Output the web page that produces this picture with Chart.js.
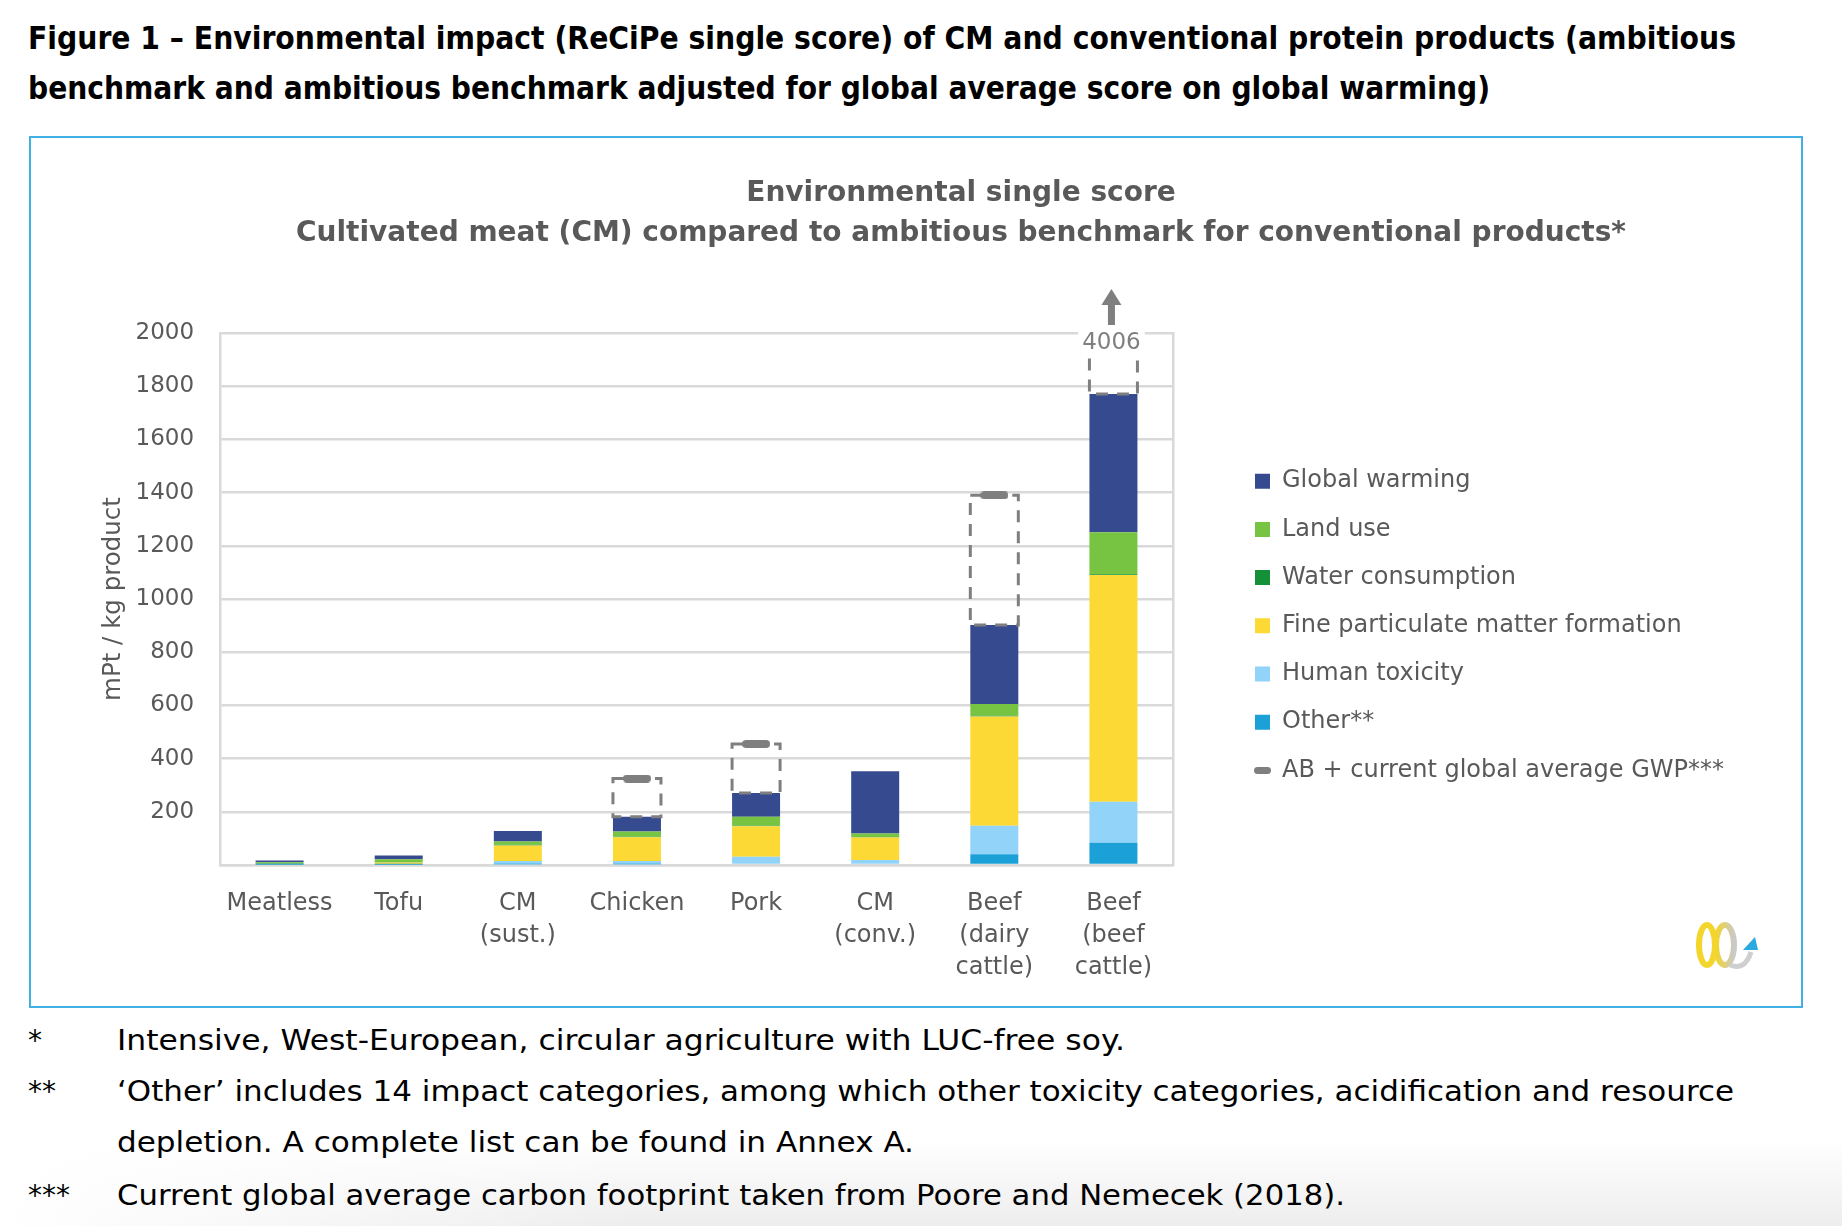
<!DOCTYPE html>
<html>
<head>
<meta charset="utf-8">
<script src="https://cdn.jsdelivr.net/npm/chart.js@4.4.1/dist/chart.umd.min.js"></script>
<style>
  html, body { margin: 0; padding: 0; background: #ffffff; }
  body { width: 1842px; height: 1226px; position: relative; overflow: hidden; font-family: "DejaVu Sans", sans-serif; }
  .tline { position: absolute; left: 28px; white-space: nowrap; font-weight: bold; font-size: 32px; line-height: 50px; color: #000; transform-origin: 0 50%; }
  #box { position: absolute; left: 29px; top: 136px; width: 1770px; height: 868px; border: 2px solid #41B0E4; }
  #wrap { position: absolute; left: 0; top: 140px; width: 1842px; height: 867px; }
  #shade { position: absolute; left: 0; top: 1140px; width: 1842px; height: 86px;
           background: linear-gradient(to right, rgba(255,255,255,1) 0%, rgba(255,255,255,0) 35%),
                       linear-gradient(to bottom, rgba(0,0,0,0) 0%, rgba(0,0,0,0.07) 100%); }
  .nstar { position: absolute; left: 28px; white-space: nowrap; font-size: 28px; line-height: 50px; color: #000; }
  .ntext { position: absolute; left: 117px; white-space: nowrap; font-size: 28px; line-height: 50px; color: #000; transform-origin: 0 50%; }
  #logo { position: absolute; left: 1690px; top: 915px; }
</style>
</head>
<body>
<div id="shade"></div>
<div class="tline" id="t1" style="top:13px">Figure 1 – Environmental impact (ReCiPe single score) of CM and conventional protein products (ambitious</div>
<div class="tline" id="t2" style="top:63px">benchmark and ambitious benchmark adjusted for global average score on global warming)</div>
<div id="box"></div>
<div id="wrap"><canvas id="chart" width="1842" height="867"></canvas></div>
<svg id="logo" width="75" height="60" viewBox="0 0 75 60">
  <defs>
    <linearGradient id="lg2" x1="0" y1="0" x2="1" y2="0">
      <stop offset="0" stop-color="#F3D52B"/>
      <stop offset="1" stop-color="#C9C9C9"/>
    </linearGradient>
  </defs>
  <ellipse cx="17" cy="30" rx="8" ry="20" fill="none" stroke="#F3D52B" stroke-width="6"/>
  <ellipse cx="35" cy="30" rx="9" ry="20" fill="none" stroke="url(#lg2)" stroke-width="6"/>
  <path d="M40 50 Q 55 56 61 37" fill="none" stroke="#CFCFCF" stroke-width="5"/>
  <polygon points="53,35 68,35 65,22" fill="#2AA8E0"/>
</svg>
<div class="nstar" style="top:1016px">*</div>
<div class="ntext" id="n1" style="top:1016px">Intensive, West-European, circular agriculture with LUC-free soy.</div>
<div class="nstar" style="top:1067px">**</div>
<div class="ntext" id="n2" style="top:1067px">‘Other’ includes 14 impact categories, among which other toxicity categories, acidification and resource</div>
<div class="ntext" id="n3" style="top:1118px">depletion. A complete list can be found in Annex A.</div>
<div class="nstar" style="top:1171px">***</div>
<div class="ntext" id="n4" style="top:1171px">Current global average carbon footprint taken from Poore and Nemecek (2018).</div>

<script>
// ---------------- DATA ----------------
const categories = [['Meatless'], ['Tofu'], ['CM', '(sust.)'], ['Chicken'], ['Pork'], ['CM', '(conv.)'], ['Beef', '(dairy', 'cattle)'], ['Beef', '(beef', 'cattle)']];
const otherValues            = [1, 1, 3, 3, 5, 5, 40, 84];
const humanToxicityValues    = [1, 1, 12, 12, 26, 14, 108, 154];
const fineParticulateValues  = [2, 7, 58, 89, 115, 84, 410, 852];
const waterConsumptionValues = [1, 1, 3, 2, 2, 1, 3, 3];
const landUseValues          = [5, 12, 12, 20, 33, 14, 44, 158];
const globalWarmingValues    = [7, 14, 40, 55, 90, 234, 297, 520];
const abGlobalAverageValues  = [null, null, null, 325, 455, null, 1390, 4006];
const seriesLabels = ['Other**', 'Human toxicity', 'Fine particulate matter formation', 'Water consumption', 'Land use', 'Global warming'];
const markerLabel = 'AB + current global average GWP***';
const yAxisMin = 0;
const yAxisMax = 2000;
const yAxisStep = 200;
const chartTitleLines = ['Environmental single score', 'Cultivated meat (CM) compared to ambitious benchmark for conventional products*'];
const yAxisTitle = 'mPt / kg product';

// ---------------- HTML text fitting ----------------
function fitOne(id, target) {
  const e = document.getElementById(id);
  const w = e.getBoundingClientRect().width;
  e.style.transform = 'scaleX(' + (target / w) + ')';
}
fitOne('t1', 1708); fitOne('t2', 1462);
fitOne('n1', 1008); fitOne('n2', 1617); fitOne('n3', 797); fitOne('n4', 1228);

// ---------------- CHART ----------------
const GREY = '#595959';
const FONT = '"DejaVu Sans", sans-serif';
const seriesColors = ['#1BA0D7', '#92D3F9', '#FDD935', '#149039', '#76C442', '#364B8F'];
const seriesValues = [otherValues, humanToxicityValues, fineParticulateValues, waterConsumptionValues, landUseValues, globalWarmingValues];

const totals = categories.map((_, i) => seriesValues.reduce((s, arr) => s + arr[i], 0));
const abGap = abGlobalAverageValues.map((v, i) => v == null ? null : v - totals[i]);

function makeDash(w, h, color) {
  const c = document.createElement('canvas');
  c.width = w; c.height = h;
  const x = c.getContext('2d');
  const r = h / 2;
  x.fillStyle = color;
  x.beginPath();
  x.moveTo(r, 0); x.lineTo(w - r, 0);
  x.arc(w - r, r, r, -Math.PI / 2, Math.PI / 2);
  x.lineTo(r, h);
  x.arc(r, r, r, Math.PI / 2, Math.PI * 1.5);
  x.closePath(); x.fill();
  return c;
}
const markerImg = makeDash(28, 8, '#7F7F7F');
const legendMarkerImg = makeDash(17, 7, '#7F7F7F');

const GAP_INDEX = 6;
const MARKER_INDEX = 7;

const datasets = seriesLabels.map((lab, k) => ({
  label: lab, data: seriesValues[k], backgroundColor: seriesColors[k], borderWidth: 0
}));
datasets.push({ label: 'gap', data: abGap, backgroundColor: 'rgba(0,0,0,0)', borderWidth: 0 });
datasets.push({
  type: 'line', label: markerLabel, data: abGlobalAverageValues, showLine: false,
  pointStyle: markerImg, pointRadius: 14, pointHoverRadius: 14,
  borderColor: '#7F7F7F', backgroundColor: '#7F7F7F', order: -1
});

const abBoxPlugin = {
  id: 'abBox',
  afterDatasetsDraw(chart) {
    const ctx = chart.ctx, a = chart.chartArea;
    const meta = chart.getDatasetMeta(GAP_INDEX);
    ctx.save();
    ctx.beginPath();
    ctx.rect(a.left, a.top, a.right - a.left, a.bottom - a.top);
    ctx.clip();
    ctx.setLineDash([12, 9]);
    ctx.lineWidth = 3;
    ctx.strokeStyle = '#7F7F7F';
    meta.data.forEach((el, i) => {
      if (abGlobalAverageValues[i] == null) return;
      const p = el.getProps(['x', 'y', 'base', 'width'], true);
      ctx.strokeRect(p.x - p.width / 2, p.y, p.width, p.base - p.y);
    });
    ctx.restore();

    const yMax = chart.scales.y.max;
    meta.data.forEach((el, i) => {
      const v = abGlobalAverageValues[i];
      if (v == null || v <= yMax) return;
      const p = el.getProps(['x'], true);
      const cx = p.x - 2;
      const top = a.top;
      ctx.save();
      ctx.font = '23px ' + FONT;
      const txt = String(v);
      const w = ctx.measureText(txt).width;
      ctx.fillStyle = '#ffffff';
      ctx.fillRect(cx - w / 2 - 4, top - 3, w + 8, 27);
      ctx.fillStyle = '#7F7F7F';
      ctx.textAlign = 'center';
      ctx.textBaseline = 'middle';
      ctx.fillText(txt, cx, top + 10);
      ctx.beginPath();
      ctx.moveTo(cx, top - 44);
      ctx.lineTo(cx + 10, top - 28);
      ctx.lineTo(cx - 10, top - 28);
      ctx.closePath();
      ctx.fill();
      ctx.fillRect(cx - 3.5, top - 29, 7, 21);
      ctx.restore();
    });
  }
};

const LEGEND_LEFT = 1230.8;
const Y2_WIDTH = 57.8;

new Chart(document.getElementById('chart'), {
  type: 'bar',
  data: { labels: categories, datasets: datasets },
  plugins: [abBoxPlugin],
  options: {
    responsive: false,
    animation: false,
    layout: { padding: { left: 80, right: 0, top: 33.5, bottom: 0 } },
    datasets: { bar: { barPercentage: 0.403, categoryPercentage: 1.0 } },
    plugins: {
      tooltip: { enabled: false },
      title: {
        display: true, text: chartTitleLines, color: GREY,
        font: { family: FONT, size: 28, weight: 'bold', lineHeight: '40px' },
        padding: { top: 0, bottom: 79.5 }
      },
      legend: {
        position: 'right', align: 'start', maxWidth: 800,
        title: { display: true, text: ' ', font: { size: 10, lineHeight: '12px' }, padding: { top: 0, bottom: 259.5 } },
        labels: {
          usePointStyle: true, boxWidth: 15, boxHeight: 15, padding: 24.2,
          color: GREY, font: { family: FONT, size: 24 },
          generateLabels(chart) {
            const base = Chart.defaults.plugins.legend.labels.generateLabels(chart);
            const order = [5, 4, 3, 2, 1, 0, MARKER_INDEX];
            return order.map(i => {
              const it = base.find(b => b.datasetIndex === i);
              if (i === MARKER_INDEX) { it.pointStyle = legendMarkerImg; }
              else { it.pointStyle = 'rect'; it.lineWidth = 0; }
              return it;
            });
          }
        }
      }
    },
    scales: {
      x: {
        stacked: true,
        grid: { display: false, drawTicks: false },
        border: { display: true, color: '#D9D9D9', width: 2.5 },
        ticks: { color: GREY, font: { family: FONT, size: 24, lineHeight: '32px' }, padding: 23, maxRotation: 0, autoSkip: false }
      },
      y: {
        stacked: true, min: yAxisMin, max: yAxisMax,
        grid: { color: '#D9D9D9', lineWidth: 2.5, drawTicks: false },
        border: { display: true, color: '#D9D9D9', width: 2.5 },
        ticks: {
          stepSize: yAxisStep, color: GREY, padding: 26, font: { family: FONT, size: 23 },
          callback: v => v === 0 ? '' : String(v)
        },
        title: { display: true, text: yAxisTitle, color: GREY, font: { family: FONT, size: 24.5, lineHeight: 1.2 }, padding: { top: 19.3, bottom: -19.2 } }
      },
      y2: {
        type: 'linear', position: 'right', display: true, weight: 0,
        grid: { display: false, drawTicks: false },
        border: { display: true, color: '#D9D9D9', width: 2.5 },
        ticks: { display: false },
        afterFit: s => { s.width = Y2_WIDTH; }
      },
      y3: {
        type: 'linear', position: 'right', display: true, weight: 2000,
        grid: { display: false, drawTicks: false },
        border: { display: false },
        ticks: { display: false },
        afterFit: s => {
          const lg = s.chart.legend;
          const lw = lg ? lg.width : 0;
          s.width = Math.max(0, s.chart.width - LEGEND_LEFT - lw);
        }
      }
    }
  }
});
</script>
</body>
</html>
